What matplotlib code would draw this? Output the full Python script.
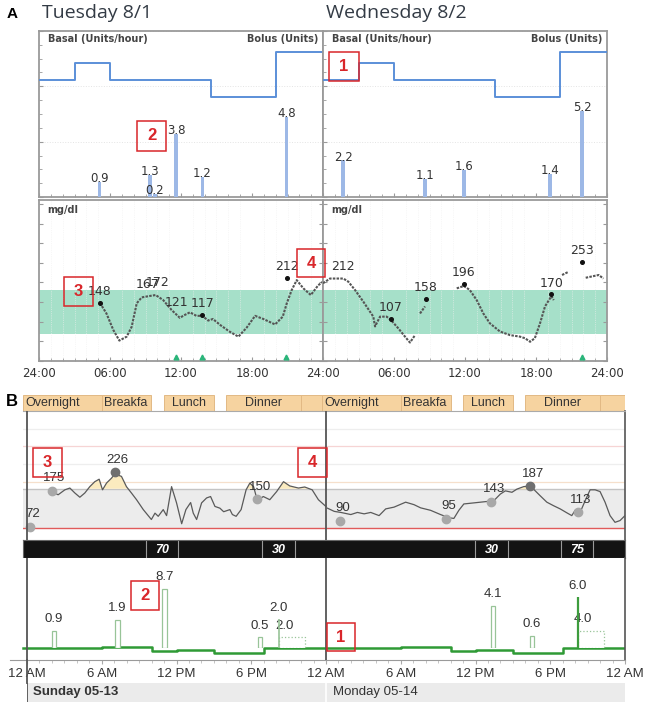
import numpy as np
import matplotlib
matplotlib.use("Agg")
import matplotlib.pyplot as plt
from matplotlib.patches import Rectangle
from matplotlib.lines import Line2D

W, H = 652, 707
nan = np.nan

# ---------------- Panel A data (Tuesday 8/1, Wednesday 8/2) ----------------
a_titles = ["Tuesday 8/1", "Wednesday 8/2"]
a_basal_start = [0, 3, 6, 14.5, 20]
a_basal_rate = [1.0, 1.2, 1.0, 0.8, 1.33]
a_bolus_time = [[5.1, 9.4, 9.8, 11.6, 13.8, 20.9],
                [1.7, 8.6, 11.9, 19.2, 21.9]]
a_bolus_units = [[0.9, 1.3, 0.2, 3.8, 1.2, 4.8],
                 [2.2, 1.1, 1.6, 1.4, 5.2]]
a_cgm_time = [
    [5.15, 5.7, 6.28, 6.79, 7.41, 7.83, 8.26, 8.68, 9.24, 9.86, 10.5, 11.2,
     11.9, 12.3, 12.76, 13.3, 13.8, 14.3, 14.7, 15.3, 16.1, 16.85, 17.55,
     18.26, 18.96, 19.95, 20.6, 20.94, 21.36, 21.78, 22.34, 22.97, 23.6, 24],
    [0, 0.59, 1.72, 2.14, 2.7, 3.41, 4.25, 4.4, 4.82, 5.38, 5.75, 6.37, 6.93,
     7.35, 7.78, nan, 8.2, 8.62, nan, 11.3, 11.9, 12.4, 12.99, 13.55, 14.1,
     14.96, 15.8, 16.65, 17.07, 17.5, 17.9, 18.34, 18.76, 19.3, 19.5, nan,
     20.2, 20.74, nan, 22.2, 23.3, 23.7],
]
a_cgm_mg = [
    [148, 121, 79, 52, 62, 87, 147, 162, 165, 168, 155, 130, 110, 117, 124,
     115, 115, 103, 107, 92, 75, 62, 85, 115, 107, 93, 113, 147, 181, 206,
     185, 168, 193, 202],
    [198, 210, 210, 202, 181, 151, 113, 88, 113, 113, 104, 83, 62, 47, 66,
     nan, 121, 139, nan, 185, 191, 181, 155, 121, 96, 75, 66, 62, 58, 49, 58,
     96, 139, 165, 155, nan, 219, 227, nan, 212, 219, 210],
]
a_bg_time = [[5.15, 9.2, 10.06, 11.6, 13.8, 20.94],
             [1.72, 5.75, 8.7, 11.9, 19.3, 21.9]]
a_bg_mg = [[148, 167, 172, 121, 117, 212],
           [212, 107, 158, 196, 170, 253]]
a_bg_dot = [[True, False, False, False, True, True],
            [False, True, True, True, True, True]]
a_carb_time = [[11.6, 13.8, 20.9], [21.9]]
a_target = (70, 180)

# ---------------- Panel B data (Sunday 05-13, Monday 05-14) ----------------
b_days = ["Sunday 05-13", "Monday 05-14"]
b_periods = ["Overnight", "Breakfa", "Lunch", "Dinner", ""]
b_period_start = [0, 6, 11, 16, 22]
b_period_end = [6, 10, 15, 22, 24]
b_cgm_time = [
    [2.0, 2.52, 3.06, 3.46, 3.86, 4.26, 4.66, 5.06, 5.46, 5.81, 6.08, 6.4,
     6.8, 7.07, 7.6, 8.0, 8.4, 8.81, 9.35, 10.0, 10.29, 10.55, 10.95, 11.22,
     11.62, 12.02, 12.43, 12.77, 13.15, 13.36, 13.63, 14.03, 14.43, 14.75,
     15.1, 15.5, 15.8, 16.3, 16.5, 16.8, 17.2, 17.6, 17.9, 18.2, 18.5, 18.98,
     19.5, 20.05, 20.6, 21.1, 21.8, 22.3, 22.9, 23.4, 24.0],
    [0.13, 0.67, 1.2, 2.0, 2.53, 3.07, 3.6, 4.27, 4.8, 5.47, 6.4, 7.07, 7.6,
     8.4, 9.2, 9.87, 10.27, 10.67, 11.07, 11.87, 12.93, 13.47, 14.0, 14.4,
     14.93, 15.33, 15.87, 16.4, 16.8, 17.2, 17.73, 18.27, 18.8, 19.33, 19.73,
     20.0, 20.4, 20.8, 21.2, 21.6, 22.0, 22.4, 22.8, 23.2, 23.6, 24.0],
]
b_cgm_mg = [
    [172, 163, 177, 182, 168, 156, 168, 186, 200, 207, 177, 196, 210, 222,
     215, 186, 168, 149, 121, 93, 111, 102, 121, 104, 186, 140, 81, 121, 141,
     111, 93, 140, 154, 158, 130, 125, 115, 121, 107, 102, 121, 177, 196, 186,
     147, 158, 149, 172, 200, 188, 182, 185, 177, 149, 130],
    [125, 116, 113, 107, 113, 109, 113, 104, 123, 128, 142, 135, 126, 119,
     107, 98, 96, 119, 137, 140, 144, 146, 165, 174, 170, 179, 186, 188, 174,
     160, 142, 132, 123, 112, 104, 119, 113, 146, 177, 177, 172, 142, 104, 85,
     90, 104],
]
b_bg_time = [[0.24, 2.0, 7.07, 18.5], [1.15, 9.6, 13.25, 16.4, 20.2]]
b_bg_mg = [[72, 175, 226, 150], [90, 95, 143, 187, 113]]
b_target = (70, 180)
b_grid = [200, 250, 300, 350]
b_carb_start = [[9.6, 18.9], [12.0, 18.9]]
b_carb_end = [[12.1, 21.5], [14.6, 21.4]]
b_carb_g = [[70, 30], [30, 75]]
b_basal_start = [0, 6, 10, 12, 15, 19]
b_basal_rate = [1.2, 1.3, 0.85, 1.0, 0.65, 1.2]
b_bolus_time = [[2.15, 7.25, 11.05, 18.7], [13.4, 16.55]]
b_bolus_units = [[0.9, 1.9, 8.7, 0.5], [4.1, 0.6]]
b_dual_time = [20.2, 20.2]
b_dual_end = [22.3, 22.3]
b_dual_now = [2.0, 6.0]
b_dual_ext = [2.0, 4.0]
b_dual_level = [0.5, 0.9]
b_ticks = ["12 AM", "6 AM", "12 PM", "6 PM", "12 AM", "6 AM", "12 PM", "6 PM", "12 AM"]

# red numbered call-out boxes (pixel boxes on the page)
callouts = [("2", 137, 121, 166, 151), ("1", 329, 52, 359, 81),
            ("3", 64, 277, 93, 306), ("4", 297, 249, 325, 277),
            ("3", 33, 448, 62, 477), ("4", 298, 448, 327, 477),
            ("2", 131, 581, 159, 610), ("1", 327, 623, 355, 651)]

plt.rcParams["font.family"] = "DejaVu Sans"
BF = "Liberation Sans"
TXT = "#333333"
FRAME = "#9a9a9a"

fig = plt.figure(figsize=(W / 100, H / 100), dpi=100)


def px_axes(x0, y0, x1, y1):
    return fig.add_axes([x0 / W, 1 - y1 / H, (x1 - x0) / W, (y1 - y0) / H])


def style_a(ax):
    for s in ax.spines.values():
        s.set_color(FRAME)
        s.set_linewidth(1.3)
    ax.tick_params(which="both", direction="in", color=FRAME, left=True,
                   right=True, top=False, bottom=True, labelleft=False)
    ax.tick_params(which="major", length=3)
    ax.tick_params(which="minor", length=2)


# ---------------- Panel A ----------------
fig.text(12 / W, 1 - 14 / H, "A", family=BF, fontsize=11, fontweight="bold",
         ha="center", va="center")
for d in range(2):
    x0 = 39 + d * 284
    fig.text((x0 + 3) / W, 1 - 13.5 / H, a_titles[d], family="Open Sans",
             fontsize=14, color="#333b45", ha="left", va="center")

    # basal / bolus
    ax = px_axes(x0, 31, x0 + 284, 197)
    ax.set_xlim(0, 24)
    ax.set_ylim(0, 10)
    ax.set_yticks(np.linspace(0, 10, 4))
    ax.set_yticks(np.linspace(0, 10, 13), minor=True)
    ax.set_xticks(np.arange(0, 25, 6))
    ax.set_xticks(np.arange(0, 25, 1), minor=True)
    ax.tick_params(labelbottom=False)
    ax.grid(axis="y", which="major", color="#e4e4e4", lw=0.7, ls=":")
    style_a(ax)
    ax.bar(a_bolus_time[d], a_bolus_units[d], width=0.3, color="#9db8e6",
           zorder=3)
    for t, v in zip(a_bolus_time[d], a_bolus_units[d]):
        ax.annotate(f"{v:.1f}", (t, v), xytext=(0, 2.5), textcoords="offset points",
                    ha="center", va="center", fontsize=8.5, color=TXT, zorder=4)
    ax.text(0.03, 0.95, "Basal (Units/hour)", transform=ax.transAxes,
            fontsize=7, fontweight="bold", color="#444", va="center")
    ax.text(0.985, 0.95, "Bolus (Units)", transform=ax.transAxes,
            fontsize=7, fontweight="bold", color="#444", va="center", ha="right")
    axb = ax.twinx()
    axb.set_ylim(-0.382, 1.578)
    axb.set_axis_off()
    bx = a_basal_start + [24]
    by = a_basal_rate + [a_basal_rate[-1]]
    axb.step(bx, by, where="post", color="#5b8fd8", lw=1.4)

    # glucose
    ax = px_axes(x0, 200, x0 + 284, 361)
    ax.set_xlim(0, 24)
    ax.set_ylim(0, 410)
    ax.set_yticks(np.arange(0, 401, 50))
    ax.set_xticks(np.arange(0, 25, 6))
    ax.set_xticks(np.arange(0, 25, 1), minor=True)
    style_a(ax)
    ax.tick_params(axis="x", labelsize=8.5, labelcolor=TXT, pad=4)
    labels = ["24:00", "06:00", "12:00", "18:00", "24:00"]
    if d == 1:
        labels[0] = ""
    ax.set_xticklabels(labels)
    ax.grid(axis="x", which="minor", color="#f0f0f0", lw=0.5, ls=":")
    ax.axhspan(a_target[0], a_target[1], color="#a6e0c9", lw=0, zorder=1)
    ax.plot(a_cgm_time[d], a_cgm_mg[d], color="#555555", lw=1.5,
            ls=(0, (1.2, 0.6)), zorder=3)
    for t, v, dot in zip(a_bg_time[d], a_bg_mg[d], a_bg_dot[d]):
        if dot:
            ax.plot(t, v, "o", ms=2.6, color="#111", zorder=4)
        ax.annotate(str(v), (t, v), xytext=(0, 8), textcoords="offset points",
                    ha="center", va="center", fontsize=9, color=TXT, zorder=5)
    ax.plot(a_carb_time[d], [10] * len(a_carb_time[d]), "^", ms=3.5,
            color="#2bb57a", zorder=4)
    ax.text(0.03, 0.94, "mg/dl", transform=ax.transAxes, fontsize=7,
            fontweight="bold", color="#444", va="center")

# ---------------- Panel B ----------------
fig.text(12 / W, 1 - 402 / H, "B", family=BF, fontsize=12, fontweight="bold",
         ha="center", va="center")

# meal period header
ax = px_axes(23, 395, 625, 411)
ax.set_xlim(-0.3, 48)
ax.set_ylim(0, 1)
ax.set_axis_off()
for d in range(2):
    for i, name in enumerate(b_periods):
        s = b_period_start[i] + 24 * d
        e = b_period_end[i] + 24 * d
        if b_period_start[i] == 0:
            s -= 0.3
        ax.add_patch(Rectangle((s, 0), e - s, 1, fc="#f6d3a0", ec="#e2b984",
                               lw=0.7))
        if i < 2:
            ax.text(s + 0.2, 0.5, name, family=BF, fontsize=9, color=TXT,
                    ha="left", va="center")
        else:
            ax.text((s + e) / 2, 0.5, name, family=BF, fontsize=9, color=TXT,
                    ha="center", va="center")

# glucose
ax = px_axes(23, 411, 625, 540)
ax.set_xlim(-0.3, 48)
ax.set_ylim(35, 400)
ax.set_xticks([])
ax.set_yticks([])
ax.spines["left"].set_visible(False)
ax.spines["bottom"].set_visible(False)
ax.spines["top"].set_color("#aaaaaa")
ax.spines["right"].set_color("#555555")
ax.spines["right"].set_linewidth(1.2)
grid_colors = ["#f6e0cc", "#eeeeee", "#f6d4d4", "#eeeeee"]
for g, c in zip(b_grid, grid_colors):
    ax.axhline(g, color=c, lw=0.9, zorder=1)
ax.axhspan(b_target[0], b_target[1], color="#ececec", lw=0, zorder=1)
ax.axhline(b_target[1], color="#c4c4c4", lw=1, zorder=2)
ax.axhline(b_target[0], color="#e05a5a", lw=1, zorder=2)
for d in range(2):
    t = np.array(b_cgm_time[d]) + 24 * d
    v = np.array(b_cgm_mg[d])
    ax.fill_between(t, b_target[1], v, where=v > b_target[1], interpolate=True,
                    color="#fbebbf", lw=0, zorder=2)
    ax.plot(t, v, color="#5a5a5a", lw=0.9, zorder=3)
    for tt, vv in zip(b_bg_time[d], b_bg_mg[d]):
        col = "#6f6f6f" if vv > b_target[1] else "#a8a8a8"
        ax.plot(tt + 24 * d, vv, "o", ms=6, color=col, zorder=4)
        ax.annotate(str(vv), (tt + 24 * d, vv), xytext=(2, 9),
                    textcoords="offset points", ha="center", va="center",
                    family=BF, fontsize=9.5, color=TXT, zorder=5)
ax.axvline(0, color="#555555", lw=1.3, zorder=6)
ax.axvline(24, color="#555555", lw=1.3, zorder=6)

# carbs bar
ax = px_axes(23, 540, 625, 558)
ax.set_xlim(-0.3, 48)
ax.set_ylim(0, 1)
ax.set_xticks([])
ax.set_yticks([])
ax.set_facecolor("#131313")
for s in ax.spines.values():
    s.set_color("#666666")
for d in range(2):
    for s, e, g in zip(b_carb_start[d], b_carb_end[d], b_carb_g[d]):
        s, e = s + 24 * d, e + 24 * d
        ax.axvline(s, color="#9a9a9a", lw=0.8)
        ax.axvline(e, color="#9a9a9a", lw=0.8)
        ax.text((s + e) / 2, 0.45, str(g), family=BF, fontsize=9,
                fontweight="bold", fontstyle="italic", color="white",
                ha="center", va="center")

# insulin: basal
ax = px_axes(10, 558, 625, 660)
ax.set_xlim(-(27 - 10) / 12.458, 48)
ax.set_ylim(0, 10)
ax.set_yticks([])
ax.spines["left"].set_visible(False)
ax.spines["top"].set_visible(False)
ax.spines["right"].set_color("#555555")
ax.spines["right"].set_linewidth(1.2)
ax.spines["bottom"].set_color("#9a9a9a")
ax.set_xticks(np.arange(0, 49, 6))
ax.set_xticks(np.arange(0, 49, 1), minor=True)
ax.set_xticklabels(b_ticks, family=BF, fontsize=9.5, color=TXT)
ax.tick_params(axis="x", which="major", length=3, color="#aaaaaa", pad=3)
ax.tick_params(axis="x", which="minor", length=2.5, color="#bbbbbb")
bx, by = [], []
for d in range(2):
    bx += [s + 24 * d for s in b_basal_start]
    by += b_basal_rate
bx[0] = -0.3
ax.step(bx + [48], by + [by[-1]], where="post", color="#2f9a35", lw=1.8,
        zorder=2)
ax.axvline(0, color="#555555", lw=1.3, zorder=6)
ax.axvline(24, color="#555555", lw=1.3, zorder=6)

# insulin: bolus (compressed scale)
ax = px_axes(27, 558, 625, 648)
ax.set_xlim(0, 48)
ax.set_yscale("function", functions=(np.log1p, np.expm1))
ax.set_ylim(0, 30.8)
ax.set_axis_off()
for d in range(2):
    for t, v in zip(b_bolus_time[d], b_bolus_units[d]):
        ax.bar(t + 24 * d, v, width=0.35, fc="white", ec="#98c498", lw=0.9,
               zorder=3)
        ax.annotate(f"{v:.1f}", (t + 24 * d, v), xytext=(0, 8.5),
                    textcoords="offset points", ha="center", va="center",
                    family=BF, fontsize=9.5, color=TXT)
    t0 = b_dual_time[d] + 24 * d
    t1 = b_dual_end[d] + 24 * d
    ax.bar(t0, b_dual_level[d], width=t1 - t0, align="edge", fc="white",
           ec="#98c498", lw=0.9, ls=":", zorder=3)
    ax.vlines(t0, 0, b_dual_now[d], color="#98c498" if d == 0 else "#3d9c3d",
              lw=1.2 if d == 0 else 1.6, zorder=4)
    ax.annotate(f"{b_dual_now[d]:.1f}", (t0, b_dual_now[d]), xytext=(0, 8.5),
                textcoords="offset points", ha="center", va="center",
                family=BF, fontsize=9.5, color=TXT)
    ax.annotate(f"{b_dual_ext[d]:.1f}", (t0 + 0.45, b_dual_level[d]),
                xytext=(0, 8.5), textcoords="offset points", ha="center",
                va="center", family=BF, fontsize=9.5, color=TXT)

# date bar
ax = px_axes(27, 683, 625, 702)
ax.set_xlim(0, 48)
ax.set_ylim(0, 1)
ax.set_xticks([])
ax.set_yticks([])
ax.set_facecolor("#ebebeb")
for s in ax.spines.values():
    s.set_visible(False)
ax.axvline(0, color="#555555", lw=1.3)
ax.axvline(24, color="white", lw=1.2)
ax.text(0.5, 0.5, b_days[0], family=BF, fontsize=9.5, fontweight="bold",
        color=TXT, va="center")
ax.text(24.6, 0.5, b_days[1], family=BF, fontsize=9.5, color=TXT, va="center")

# left frame line joining the B blocks
fig.add_artist(Line2D([27 / W, 27 / W], [1 - 660 / H, 1 - 683 / H],
                      color="#555555", lw=1.3))

# red call-out boxes
for lab, x0, y0, x1, y1 in callouts:
    fig.add_artist(Rectangle((x0 / W, 1 - y1 / H), (x1 - x0) / W, (y1 - y0) / H,
                             transform=fig.transFigure, fill=False,
                             ec="#d9262a", lw=1.1, zorder=20))
    fig.text((x0 + x1) / 2 / W, 1 - (y0 + y1) / 2 / H, lab, family=BF,
             fontsize=12, fontweight="bold", color="#d9262a", ha="center",
             va="center", zorder=21)

fig.savefig("out.png", dpi=100)
